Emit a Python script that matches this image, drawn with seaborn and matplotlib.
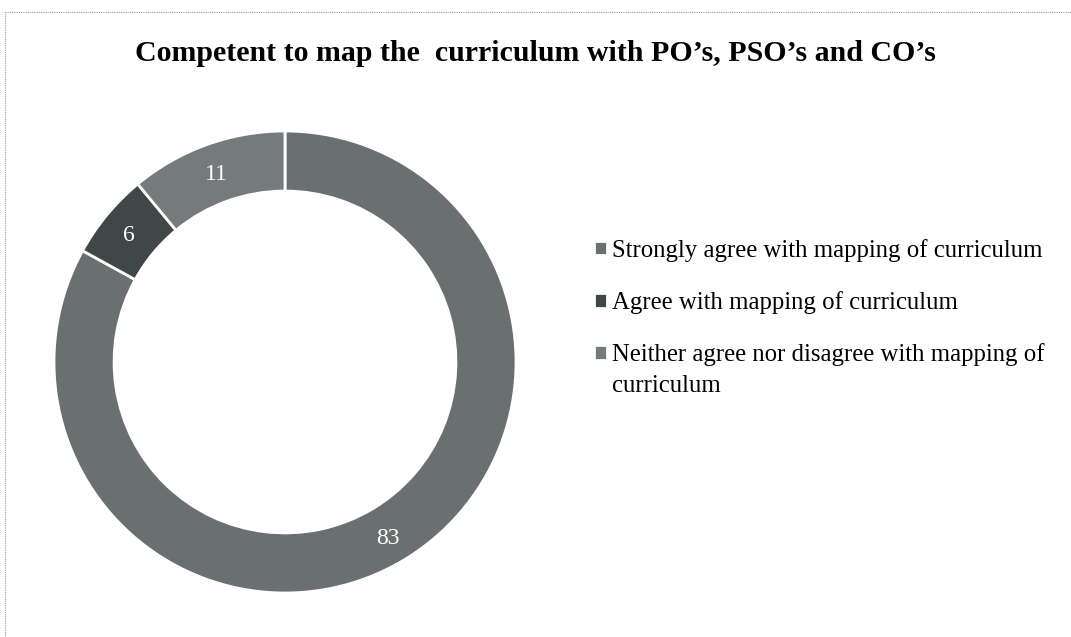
import textwrap
import numpy as np
import matplotlib
matplotlib.use("Agg")
import matplotlib.pyplot as plt
import seaborn as sns
from matplotlib.lines import Line2D

categories = [
    "Strongly agree with mapping of curriculum",
    "Agree with mapping of curriculum",
    "Neither agree nor disagree with mapping of curriculum",
]
values = [83, 6, 11]
colors = ["#6a7070", "#3f4747", "#757a7a"]

sns.set_theme(style="white")
plt.rcParams["font.family"] = ["Liberation Serif", "DejaVu Serif"]
plt.rcParams["text.color"] = "black"

W, H = 1071, 637
fig = plt.figure(figsize=(W / 100, H / 100), dpi=100)

# donut axes: centre ~ (285, 362) px, radius ~231 px
cx, cy, r = 285, 362, 231
ax = fig.add_axes([(cx - r) / W, (H - cy - r) / H, 2 * r / W, 2 * r / H])

wedges, _ = ax.pie(
    values,
    startangle=90,
    counterclock=False,
    colors=colors,
    radius=1.0,
    wedgeprops=dict(width=0.26, edgecolor="white", linewidth=2),
)
for w, v in zip(wedges, values):
    ang = np.deg2rad((w.theta1 + w.theta2) / 2)
    ax.text(0.875 * np.cos(ang), 0.875 * np.sin(ang) - 0.012, str(v),
            ha="center", va="center", color="white", fontsize=17)
ax.set_xlim(-1, 1)
ax.set_ylim(-1, 1)
ax.set_aspect("equal")
ax.axis("off")

fig.text(0.5, 1 - 61 / H,
         "Competent to map the  curriculum with PO\u2019s, PSO\u2019s and CO\u2019s",
         ha="center", va="baseline", fontsize=21.5, fontweight="bold")

# legend (long labels wrapped like the original)
wrapped = [textwrap.wrap(c, 42) for c in categories]
leg = fig.legend(
    wedges, [w[0] for w in wrapped],
    loc="upper left",
    bbox_to_anchor=(594 / W, 1 - 239 / H),
    frameon=False,
    fontsize=17.8,
    handlelength=0.52,
    handleheight=0.52,
    handletextpad=0.22,
    labelspacing=1.18,
    borderpad=0,
    borderaxespad=0,
)
fig.canvas.draw()
for t, lines in zip(leg.get_texts(), wrapped):
    bb = t.get_window_extent()
    for k, extra in enumerate(lines[1:], start=1):
        fig.text(bb.x0 / W, (bb.y0 - 36 * k + 5) / H, extra,
                 ha="left", va="bottom", fontsize=17.8)

# thin dotted page border (top and left)
fig.add_artist(Line2D([5 / W, 1], [1 - 12 / H, 1 - 12 / H], color="#999999",
                      linewidth=0.8, linestyle=(0, (1, 1)), transform=fig.transFigure))
fig.add_artist(Line2D([5 / W, 5 / W], [0, 1 - 12 / H], color="#999999",
                      linewidth=0.8, linestyle=(0, (1, 1)), transform=fig.transFigure))

fig.savefig("out.png", dpi=100)
